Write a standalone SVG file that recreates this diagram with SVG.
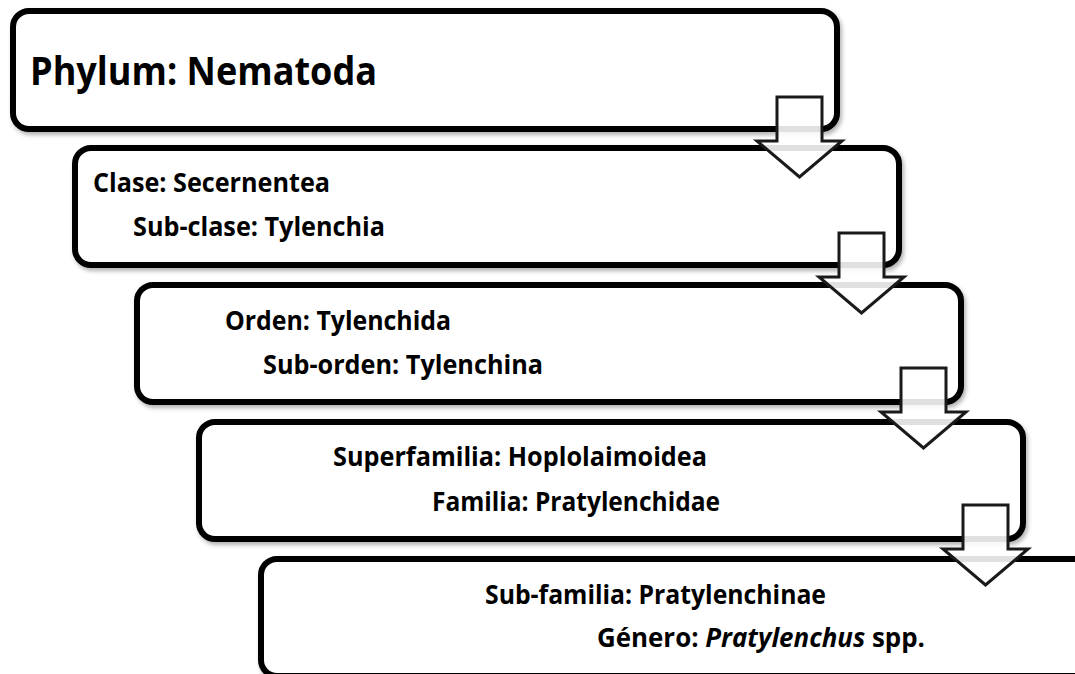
<svg xmlns="http://www.w3.org/2000/svg" width="1075" height="674" viewBox="0 0 1075 674">
<defs>
<style>
.box{fill:#fff;stroke:#000;stroke-width:6;filter:url(#sh)}
.arr{fill:#fff;fill-opacity:0.88;stroke:#1a1a1a;stroke-width:3;stroke-linejoin:miter}
.t{font-family:"Open Sans","Noto Sans","DejaVu Sans",sans-serif;font-weight:bold;fill:#000}
.big{font-size:39px}
.sm{font-size:27px}
.it{font-style:italic}
</style>
<filter id="sh" x="-5%" y="-10%" width="110%" height="125%">
<feDropShadow dx="2" dy="3" stdDeviation="2" flood-color="#000" flood-opacity="0.3"/>
</filter>
</defs>
<rect width="1075" height="674" fill="#fff"/>
<g id="node1">
<rect class="box" x="13" y="11" width="824" height="118" rx="16"/>
<text class="t big" x="30" y="85" textLength="347" lengthAdjust="spacingAndGlyphs">Phylum: Nematoda</text>
</g>
<g id="node2">
<rect class="box" x="75" y="148" width="824" height="117" rx="16"/>
<text class="t sm" x="93" y="192" textLength="237" lengthAdjust="spacingAndGlyphs">Clase: Secernentea</text>
<text class="t sm" x="133" y="236" textLength="252" lengthAdjust="spacingAndGlyphs">Sub-clase: Tylenchia</text>
</g>
<g id="node3">
<rect class="box" x="137" y="285" width="824" height="117" rx="16"/>
<text class="t sm" x="225" y="330" textLength="226" lengthAdjust="spacingAndGlyphs">Orden: Tylenchida</text>
<text class="t sm" x="263" y="374" textLength="280" lengthAdjust="spacingAndGlyphs">Sub-orden: Tylenchina</text>
</g>
<g id="node4">
<rect class="box" x="199" y="422" width="824" height="117" rx="16"/>
<text class="t sm" x="333" y="466" textLength="374" lengthAdjust="spacingAndGlyphs">Superfamilia: Hoplolaimoidea</text>
<text class="t sm" x="432" y="511" textLength="288" lengthAdjust="spacingAndGlyphs">Familia: Pratylenchidae</text>
</g>
<g id="node5">
<rect class="box" x="261" y="559" width="900" height="117" rx="16"/>
<text class="t sm" x="485" y="604" textLength="341" lengthAdjust="spacingAndGlyphs">Sub-familia: Pratylenchinae</text>
<text class="t sm" x="597" y="647" textLength="328" lengthAdjust="spacingAndGlyphs">Género: <tspan class="it">Pratylenchus</tspan> spp.</text>
</g>
<g id="connectors">
<polygon class="arr" points="777,97 822,97 822,141 842,141 799.5,177 757,141 777,141"/>
<polygon class="arr" points="839,233 884,233 884,277 904,277 861.5,313 819,277 839,277"/>
<polygon class="arr" points="901,368 946,368 946,412 966,412 923.5,448 881,412 901,412"/>
<polygon class="arr" points="963,505 1008,505 1008,549 1028,549 985.5,585 943,549 963,549"/>
</g>
</svg>
